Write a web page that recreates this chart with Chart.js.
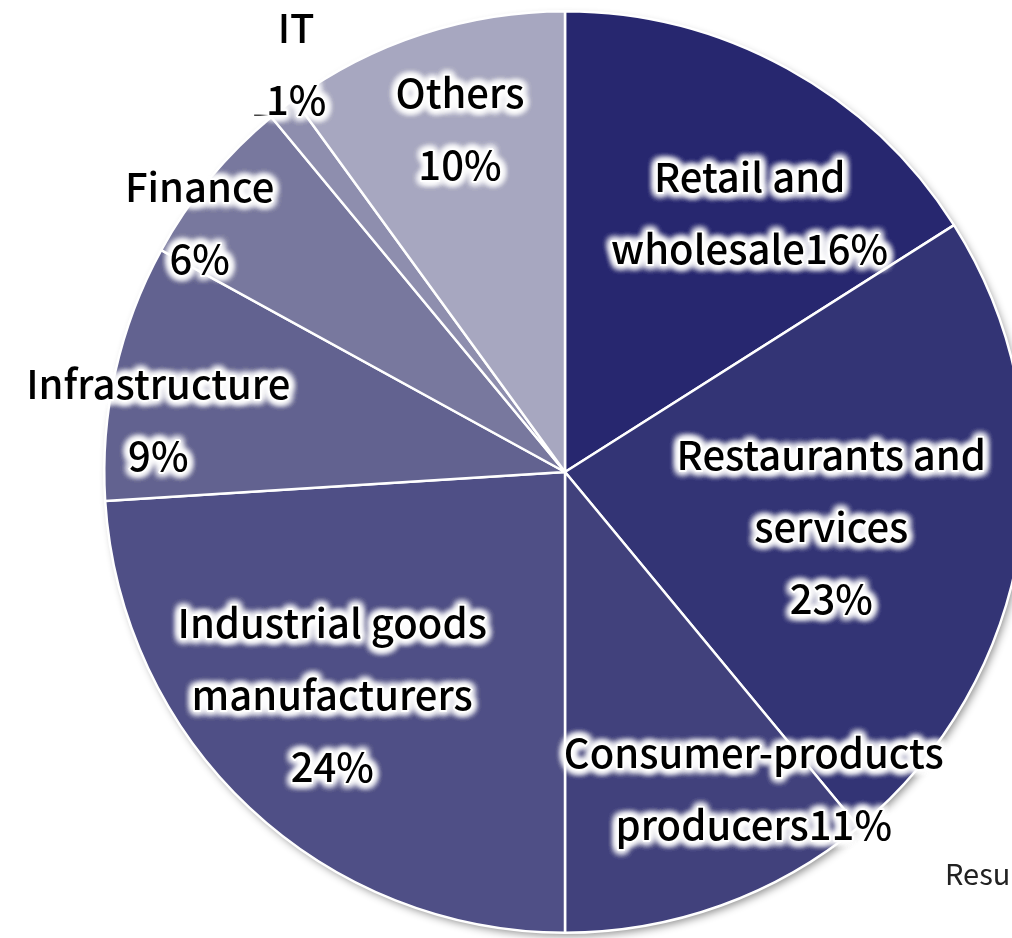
<!DOCTYPE html>
<html>
<head>
<meta charset="utf-8">
<script src="https://cdn.jsdelivr.net/npm/chart.js@4/dist/chart.umd.min.js"></script>
<style>
    html, body { margin: 0; padding: 0; background: #fff; overflow: hidden; }
    #wrap { position: absolute; left: 0; top: 0; width: 1012px; height: 938px; overflow: hidden; }
    #pie { position: absolute; left: 0; top: 0; }
</style>
</head>
<body>
<div id="wrap"><canvas id="pie" width="1130" height="944"></canvas></div>
<script>
// share by industry, clockwise from 12 o'clock
var industries = ['Retail and wholesale', 'Restaurants and services', 'Consumer-products producers',
    'Industrial goods manufacturers', 'Infrastructure', 'Finance', 'IT', 'Others'];
var shares = [16, 23, 11, 24, 9, 6, 1, 10];
var sliceColors = ['#27276f', '#333475', '#41417c', '#4f4f86', '#626290', '#78789e', '#8e8eae', '#a7a7c0'];

// label text, split into lines as drawn
var labelLines = [
    ['Retail and', 'wholesale16%'],
    ['Restaurants and', 'services', '23%'],
    ['Consumer-products', 'producers11%'],
    ['Industrial goods', 'manufacturers', '24%'],
    ['Infrastructure', '9%'],
    ['Finance', '6%'],
    ['IT', '1%'],
    ['Others', '10%']
];
// label block placement: [fraction of radius, angle in degrees clockwise from top]
var labelPlace = [
    [0.69, 35.5], [0.59, 101.6], [0.80, 149.2], [0.70, 226.2],
    [0.89, 277.3], [0.96, 304.3], [1.06, 326.6], [0.78, 343.0]
];
var sourceNote = 'Results';

var FONT = '500 40px "Noto Sans CJK JP", "Noto Sans", sans-serif';
var LINE_H = 72;

function glowText(ctx, text, x, y) {
    ctx.save();
    ctx.shadowColor = '#ffffff';
    ctx.fillStyle = '#ffffff';
    ctx.strokeStyle = '#ffffff';
    ctx.lineWidth = 3;
    ctx.lineJoin = 'round';
    ctx.shadowBlur = 9;
    for (var k = 0; k < 5; k++) {
        ctx.strokeText(text, x, y);
        ctx.fillText(text, x, y);
    }
    ctx.restore();
    ctx.fillStyle = '#000000';
    ctx.fillText(text, x, y);
}

var pieShadow = {
    id: 'pieShadow',
    beforeDatasetsDraw: function(chart) {
        var arc = chart.getDatasetMeta(0).data[0];
        var ctx = chart.ctx;
        ctx.save();
        ctx.shadowColor = 'rgba(0,0,0,0.45)';
        ctx.shadowBlur = 9;
        ctx.shadowOffsetX = 3;
        ctx.shadowOffsetY = 4;
        ctx.fillStyle = '#777';
        ctx.beginPath();
        ctx.arc(arc.x, arc.y, arc.outerRadius - 1, 0, Math.PI * 2);
        ctx.fill();
        ctx.restore();
    }
};

var sliceLabels = {
    id: 'sliceLabels',
    afterDatasetsDraw: function(chart) {
        var meta = chart.getDatasetMeta(0);
        var ctx = chart.ctx;
        var cx = meta.data[0].x, cy = meta.data[0].y, r = meta.data[0].outerRadius;

        // short leader line for the thin IT slice
        var it = meta.data[6];
        var mid = (it.startAngle + it.endAngle) / 2;
        var ex = cx + r * Math.cos(mid), ey = cy + r * Math.sin(mid);
        var itAng = labelPlace[6][1] * Math.PI / 180;
        var lx = cx + labelPlace[6][0] * r * Math.sin(itAng);
        var ly = cy - labelPlace[6][0] * r * Math.cos(itAng) + LINE_H / 2;
        ctx.save();
        ctx.strokeStyle = '#444';
        ctx.lineWidth = 1.5;
        ctx.beginPath();
        ctx.moveTo(ex, ey);
        ctx.lineTo(lx - 29, ly + 15);
        ctx.lineTo(lx - 42, ly + 15);
        ctx.stroke();
        ctx.restore();

        ctx.save();
        ctx.font = FONT;
        ctx.textAlign = 'center';
        ctx.textBaseline = 'middle';
        for (var i = 0; i < labelLines.length; i++) {
            var a = labelPlace[i][1] * Math.PI / 180;
            var x = cx + labelPlace[i][0] * r * Math.sin(a);
            var y = cy - labelPlace[i][0] * r * Math.cos(a);
            var lines = labelLines[i];
            var top = y - (lines.length - 1) * LINE_H / 2;
            for (var j = 0; j < lines.length; j++) {
                glowText(ctx, lines[j], x, top + j * LINE_H);
            }
        }
        ctx.restore();

        ctx.save();
        ctx.font = '400 29px "Noto Sans CJK JP", "Noto Sans", sans-serif';
        ctx.fillStyle = '#222';
        ctx.textAlign = 'left';
        ctx.textBaseline = 'alphabetic';
        ctx.fillText(sourceNote, 945, 885);
        ctx.restore();
    }
};

var chart = new Chart(document.getElementById('pie').getContext('2d'), {
    type: 'pie',
    data: {
        labels: industries,
        datasets: [{
            data: shares,
            backgroundColor: sliceColors,
            borderColor: '#ffffff',
            borderWidth: 2.5
        }]
    },
    options: {
        responsive: false,
        animation: false,
        layout: { padding: 10 },
        plugins: {
            legend: { display: false },
            tooltip: { enabled: false }
        }
    },
    plugins: [pieShadow, sliceLabels]
});
</script>
</body>
</html>
